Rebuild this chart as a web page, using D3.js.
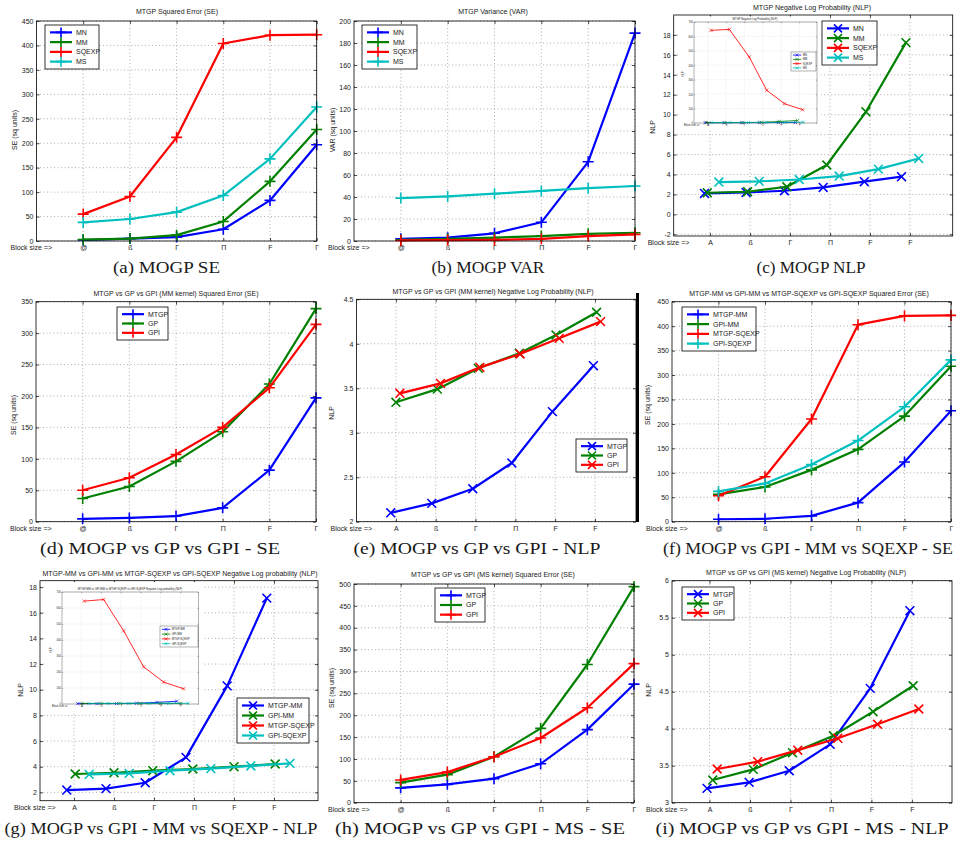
<!DOCTYPE html>
<html><head><meta charset="utf-8">
<script src="https://cdn.jsdelivr.net/npm/d3@7"></script>
<style>body{margin:0;background:#fff} svg{display:block}</style>
</head><body><svg id="c" width="956" height="846"></svg>
<script>
// ---------- data ----------
const blockIdx = [1, 2, 3, 4, 5, 6];
const blockLabelsSE = ["@", "ß", "Γ", "Π", "F", "Γ"];
const blockLabelsNLP = ["A", "ß", "Γ", "Π", "F", "F"];
const blockAxisLabel = "Block size =>";

// (a) MTGP SE
const seMN = [2, 5, 8, 24, 83, 197];
const seMM = [3, 5, 12, 40, 122, 228];
const seSQEXP = [55, 91, 212, 404, 421, 422];
const seMS = [38, 45, 59, 93, 168, 274];
// (b) MTGP VAR
const varMN = [2, 3, 7, 17, 72, 189];
const varMM = [1, 2, 3, 4.5, 6.5, 7.5];
const varSQEXP = [0.5, 0.8, 1, 2, 4.5, 6];
const varMS = [39, 40.5, 43, 45.5, 48, 50];
// (c) MTGP NLP
const nlpMN_x = [0.86, 1.9, 2.86, 3.83, 4.86, 5.79];
const nlpMN = [2.1, 2.2, 2.37, 2.7, 3.28, 3.78];
const nlpMM_x = [0.93, 1.94, 2.92, 3.92, 4.9, 5.9];
const nlpMM = [2.17, 2.27, 2.77, 4.95, 10.29, 17.23];
const nlpSQEXP_x = [1.18, 2.18, 3.27, 4.22, 5.19, 6.19];
const nlpSQEXP = [642, 649, 457, 227, 134, 92];
const nlpMS_x = [1.22, 2.23, 3.23, 4.23, 5.21, 6.22];
const nlpMS = [3.24, 3.31, 3.5, 3.84, 4.54, 5.61];
// (d) MM kernel SE
const mmSE_MTGP = [4.5, 6, 9, 22, 82, 197];
const mmSE_GP = [37, 56, 96, 143, 219, 339];
const mmSE_GPI = [50, 70, 107, 150, 213, 314];
// (e) MM kernel NLP
const mmNLP_MTGP_x = [0.87, 1.9, 2.93, 3.91, 4.93, 5.96];
const mmNLP_MTGP = [2.10, 2.206, 2.37, 2.66, 3.237, 3.754];
const mmNLP_GP_x = [1.0, 2.04, 3.07, 4.1, 5.02, 6.04];
const mmNLP_GP = [3.342, 3.49, 3.724, 3.893, 4.099, 4.354];
const mmNLP_GPI_x = [1.1, 2.12, 3.11, 4.12, 5.1, 6.14];
const mmNLP_GPI = [3.443, 3.555, 3.735, 3.885, 4.061, 4.249];
// (f) MM vs SQEXP SE
const kSE_MTGP_MM = [5, 6, 12, 39, 122, 227];
const kSE_GPI_MM = [56, 71, 106, 148, 216, 318];
const kSE_MTGP_SQEXP = [53, 92, 210, 403, 421, 422];
const kSE_GPI_SQEXP = [62, 78, 117, 166, 235, 331];
// (g) MM vs SQEXP NLP
const kNLP_MTGP_MM_x = [0.82, 1.8, 2.78, 3.8, 4.83, 5.82];
const kNLP_MTGP_MM = [2.18, 2.29, 2.75, 4.73, 10.3, 17.14];
const kNLP_GPI_MM_x = [1.03, 2.0, 2.97, 3.97, 5.0, 6.03];
const kNLP_GPI_MM = [3.43, 3.53, 3.69, 3.82, 4.0, 4.21];
const kNLP_MTGP_SQEXP_x = [1.15, 2.13, 3.14, 4.15, 5.16, 6.17];
const kNLP_MTGP_SQEXP = [643, 653, 457, 232, 137, 95];
const kNLP_GPI_SQEXP_x = [1.38, 2.38, 3.4, 4.42, 5.42, 6.4];
const kNLP_GPI_SQEXP = [3.4, 3.48, 3.69, 3.85, 4.06, 4.26];
// (h) MS kernel SE
const msSE_MTGP = [34, 42, 55, 89, 167, 271];
const msSE_GP = [46, 64, 105, 170, 316, 494];
const msSE_GPI = [52, 70, 105, 148, 217, 318];
// (i) MS kernel NLP
const msNLP_MTGP_x = [0.94, 1.98, 2.97, 3.98, 4.97, 5.95];
const msNLP_MTGP = [3.194, 3.275, 3.432, 3.788, 4.545, 5.595];
const msNLP_GP_x = [1.08, 2.08, 3.05, 4.06, 5.04, 6.03];
const msNLP_GP = [3.306, 3.45, 3.676, 3.905, 4.23, 4.58];
const msNLP_GPI_x = [1.19, 2.19, 3.18, 4.17, 5.15, 6.17];
const msNLP_GPI = [3.455, 3.554, 3.71, 3.87, 4.06, 4.266];

// ---------- styles ----------
const C = {b: "#0000ff", g: "#008000", r: "#ff0000", c: "#00bfbf"};
const SANS = '"Liberation Sans", Arial, sans-serif';
const SERIF = '"Liberation Serif", "Times New Roman", serif';

const svg = d3.select("#c");
svg.append("rect").attr("width", 956).attr("height", 846).attr("fill", "#fff");

function markerPath(type, r) {
  if (type === "plus") return `M${-r},0H${r}M0,${-r}V${r}`;
  const q = r * 0.8;
  return `M${-q},${-q}L${q},${q}M${-q},${q}L${q},${-q}`;
}

let clipN = 0;
function drawPanel(p, s) {
  s = s || 1;
  const [L, T, R, B] = p.box;
  const x = d3.scaleLinear().domain(p.xd).range([L, R]);
  const y = d3.scaleLinear().domain(p.yd).range([B, T]);
  const g = svg.append("g");
  const fs = 7 * s;
  if (p.bg) g.append("rect").attr("x", p.bg[0]).attr("y", p.bg[1])
    .attr("width", p.bg[2] - p.bg[0]).attr("height", p.bg[3] - p.bg[1]).attr("fill", "#fff");

  // grid
  g.append("g").selectAll("line").data(blockIdx).join("line")
    .attr("x1", d => x(d)).attr("x2", d => x(d)).attr("y1", T).attr("y2", B)
    .attr("stroke", "#9a9a9a").attr("stroke-width", 0.8 * s).attr("stroke-dasharray", `${1*s},${2.5*s}`);
  g.append("g").selectAll("line").data(p.yt).join("line")
    .attr("y1", d => y(d)).attr("y2", d => y(d)).attr("x1", L).attr("x2", R)
    .attr("stroke", "#9a9a9a").attr("stroke-width", 0.8 * s).attr("stroke-dasharray", `${1*s},${2.5*s}`);

  // axes
  const styleAx = (sel) => {
    sel.select(".domain").remove();
    sel.attr("font-size", fs).attr("font-family", SANS);
    sel.selectAll("line").attr("stroke", "#000").attr("stroke-width", 0.7 * s);
    sel.selectAll("text").attr("fill", "#222");
  };
  g.append("g").attr("transform", `translate(0,${B})`)
    .call(d3.axisBottom(x).tickValues(blockIdx).tickFormat((d, i) => p.xl[i])
      .tickSizeInner(-3 * s).tickSizeOuter(0).tickPadding(4 * s)).call(styleAx);
  g.append("g").attr("transform", `translate(0,${T})`)
    .call(d3.axisTop(x).tickValues(blockIdx).tickFormat(() => "")
      .tickSizeInner(-3 * s).tickSizeOuter(0)).call(styleAx);
  g.append("g").attr("transform", `translate(${L},0)`)
    .call(d3.axisLeft(y).tickValues(p.yt).tickFormat(d => String(d))
      .tickSizeInner(-3 * s).tickSizeOuter(0).tickPadding(3 * s)).call(styleAx);
  g.append("g").attr("transform", `translate(${R},0)`)
    .call(d3.axisRight(y).tickValues(p.yt).tickFormat(() => "")
      .tickSizeInner(-3 * s).tickSizeOuter(0)).call(styleAx);

  // block size label
  g.append("text").attr("x", L - 26 * s).attr("y", B + 9 * s).attr("font-size", fs)
    .attr("font-family", SANS).attr("fill", "#222").text(blockAxisLabel);
  // title
  g.append("text").attr("x", p.title[1]).attr("y", p.title[2]).attr("text-anchor", "middle")
    .attr("font-size", fs).attr("font-family", SANS).attr("fill", "#222").text(p.title[0]);
  // y label
  g.append("text").attr("transform", `translate(${p.ylab[1]},${p.ylab[2]}) rotate(-90)`)
    .attr("text-anchor", "middle").attr("font-size", fs).attr("font-family", SANS)
    .attr("fill", "#222").text(p.ylab[0]);

  // series
  const id = "clip" + (clipN++);
  const m = 6 * s;
  svg.append("clipPath").attr("id", id).append("rect")
    .attr("x", L - m).attr("y", T - m).attr("width", R - L + 2 * m).attr("height", B - T + 2 * m);
  const sg = g.append("g").attr("clip-path", `url(#${id})`);
  p.series.forEach(se => {
    const pts = se.x.map((xv, i) => [x(xv), y(se.y[i])]);
    sg.append("path").attr("d", d3.line()(pts)).attr("fill", "none")
      .attr("stroke", se.c).attr("stroke-width", 2.2 * s).attr("stroke-linejoin", "round");
    sg.append("g").selectAll("path").data(pts).join("path")
      .attr("transform", d => `translate(${d[0]},${d[1]})`)
      .attr("d", markerPath(p.marker, 5.5 * s)).attr("fill", "none")
      .attr("stroke", se.c).attr("stroke-width", 1.6 * s);
  });

  // frame
  g.append("rect").attr("x", L).attr("y", T).attr("width", R - L).attr("height", B - T)
    .attr("fill", "none").attr("stroke", "#000").attr("stroke-width", 0.8 * s);

  if (p.inset) drawPanel(p.inset, p.inset.s);

  // legend
  if (p.legend) {
    const [x0, y0, x1, y1] = p.legend;
    const lg = svg.append("g");
    lg.append("rect").attr("x", x0).attr("y", y0).attr("width", x1 - x0).attr("height", y1 - y0)
      .attr("fill", "#fff").attr("stroke", "#000").attr("stroke-width", 0.8 * s);
    const pad = 2.5 * s, rh = (y1 - y0 - 2 * pad) / p.series.length;
    p.series.forEach((se, k) => {
      const cy = y0 + pad + rh * (k + 0.5);
      lg.append("line").attr("x1", x0 + 5 * s).attr("x2", x0 + 27 * s).attr("y1", cy).attr("y2", cy)
        .attr("stroke", se.c).attr("stroke-width", 2.2 * s);
      lg.append("path").attr("transform", `translate(${x0 + 16 * s},${cy})`)
        .attr("d", markerPath(p.marker, 5 * s)).attr("fill", "none")
        .attr("stroke", se.c).attr("stroke-width", 1.6 * s);
      lg.append("text").attr("x", x0 + 31 * s).attr("y", cy).attr("dy", "0.35em")
        .attr("font-size", fs).attr("font-family", SANS).attr("fill", "#222").text(se.n);
    });
  }
  // caption
  if (p.cap) {
    svg.append("text").attr("x", p.cap[1]).attr("y", p.cap[2]).attr("text-anchor", "middle")
      .attr("font-size", 17).attr("font-family", SERIF).attr("fill", "#1a1a1a")
      .attr("textLength", p.cap[3]).attr("lengthAdjust", "spacingAndGlyphs").text(p.cap[0]);
  }
}

const S = (n, c, x, y) => ({n, c, x, y});
const ySE450 = d3.range(0, 451, 50);

const panels = [
  { box: [36.5, 21, 316.7, 241], xd: [0, 6], yd: [0, 450], yt: ySE450, xl: blockLabelsSE, marker: "plus",
    title: ["MTGP Squared Error (SE)", 177, 14], ylab: ["SE (sq units)", 17, 130],
    series: [S("MN", C.b, blockIdx, seMN), S("MM", C.g, blockIdx, seMM), S("SQEXP", C.r, blockIdx, seSQEXP), S("MS", C.c, blockIdx, seMS)],
    legend: [45, 25, 99, 69], cap: ["(a) MOGP SE", 166.5, 273, 107] },
  { box: [354, 21, 635, 241], xd: [0, 6], yd: [0, 200], yt: d3.range(0, 201, 20), xl: blockLabelsSE, marker: "plus",
    title: ["MTGP Variance (VAR)", 493, 14], ylab: ["VAR (sq units)", 335, 130],
    series: [S("MN", C.b, blockIdx, varMN), S("MM", C.g, blockIdx, varMM), S("SQEXP", C.r, blockIdx, varSQEXP), S("MS", C.c, blockIdx, varMS)],
    legend: [362, 25, 417, 69], cap: ["(b) MOGP VAR", 488, 273, 113] },
  { box: [673.7, 15, 952.7, 236], xd: [0.09, 7.07], yd: [-2.17, 20], yt: d3.range(-2, 19, 2), xl: blockLabelsNLP, marker: "x",
    title: ["MTGP Negative Log Probability (NLP)", 812, 10], ylab: ["NLP", 655, 127],
    series: [S("MN", C.b, nlpMN_x, nlpMN), S("MM", C.g, nlpMM_x, nlpMM), S("SQEXP", C.r, nlpSQEXP_x, nlpSQEXP), S("MS", C.c, nlpMS_x, nlpMS)],
    legend: [822, 21, 877, 65], cap: ["(c) MOGP NLP", 811, 273, 109],
    inset: { s: 0.38, bg: [680, 16.5, 821, 128], box: [694, 22, 817, 123], xd: [0.25, 6.97], yd: [0, 700], yt: d3.range(0, 701, 100),
      xl: blockLabelsNLP, marker: "x",
      title: ["MTGP Negative Log Probability (NLP)", 755, 20], ylab: ["NLP", 684, 74],
      series: [S("MN", C.b, nlpMN_x, nlpMN), S("MM", C.g, nlpMM_x, nlpMM), S("SQEXP", C.r, nlpSQEXP_x, nlpSQEXP), S("MS", C.c, nlpMS_x, nlpMS)],
      legend: [791, 52, 816, 71] } },
  { box: [36, 301.7, 316, 521.7], xd: [0, 6], yd: [0, 350], yt: d3.range(0, 351, 50), xl: blockLabelsSE, marker: "plus",
    title: ["MTGP vs GP vs GPI (MM kernel) Squared Error (SE)", 176, 296], ylab: ["SE (sq units)", 16, 415],
    series: [S("MTGP", C.b, blockIdx, mmSE_MTGP), S("GP", C.g, blockIdx, mmSE_GP), S("GPI", C.r, blockIdx, mmSE_GPI)],
    legend: [117, 307, 168, 340], cap: ["(d) MOGP vs GP vs GPI - SE", 160, 554, 240] },
  { box: [356.5, 299.3, 636, 521.7], xd: [0.01, 7.03], yd: [2, 4.5], yt: d3.range(2, 4.51, 0.5), xl: blockLabelsNLP, marker: "x",
    title: ["MTGP vs GP vs GPI (MM kernel) Negative Log Probability (NLP)", 493, 294], ylab: ["NLP", 334, 413],
    series: [S("MTGP", C.b, mmNLP_MTGP_x, mmNLP_MTGP), S("GP", C.g, mmNLP_GP_x, mmNLP_GP), S("GPI", C.r, mmNLP_GPI_x, mmNLP_GPI)],
    legend: [576, 439, 627, 472], cap: ["(e) MOGP vs GP vs GPI - NLP", 477, 554, 247] },
  { box: [672, 301.7, 951, 521.7], xd: [0, 6], yd: [0, 450], yt: ySE450, xl: blockLabelsSE, marker: "plus",
    title: ["MTGP-MM vs GPI-MM vs MTGP-SQEXP vs GPI-SQEXP Squared Error (SE)", 809, 296], ylab: ["SE (sq units)", 650, 405],
    series: [S("MTGP-MM", C.b, blockIdx, kSE_MTGP_MM), S("GPI-MM", C.g, blockIdx, kSE_GPI_MM), S("MTGP-SQEXP", C.r, blockIdx, kSE_MTGP_SQEXP), S("GPI-SQEXP", C.c, blockIdx, kSE_GPI_SQEXP)],
    legend: [682, 307, 756, 351], cap: ["(f) MOGP vs GPI - MM vs SQEXP - SE", 808, 554, 290] },
  { box: [40, 580.7, 318, 800.7], xd: [0.15, 7.1], yd: [1.35, 18.5], yt: d3.range(2, 19, 2), xl: blockLabelsNLP, marker: "x",
    title: ["MTGP-MM vs GPI-MM vs MTGP-SQEXP vs GPI-SQEXP Negative Log probability (NLP)", 180, 576], ylab: ["NLP", 23, 690],
    series: [S("MTGP-MM", C.b, kNLP_MTGP_MM_x, kNLP_MTGP_MM), S("GPI-MM", C.g, kNLP_GPI_MM_x, kNLP_GPI_MM), S("MTGP-SQEXP", C.r, kNLP_MTGP_SQEXP_x, kNLP_MTGP_SQEXP), S("GPI-SQEXP", C.c, kNLP_GPI_SQEXP_x, kNLP_GPI_SQEXP)],
    legend: [237, 698, 309, 743], cap: ["(g) MOGP vs GPI - MM vs SQEXP - NLP", 161, 834, 313],
    inset: { s: 0.38, bg: [45, 582, 203, 711], box: [62, 592, 198.7, 704], xd: [0.025, 6.93], yd: [0, 700], yt: d3.range(0, 701, 100),
      xl: blockLabelsNLP, marker: "x",
      title: ["MTGP-MM vs GPI-MM vs MTGP-SQEXP vs GPI-SQEXP Negative Log probability (NLP)", 130, 590], ylab: ["NLP", 52, 650],
      series: [S("MTGP-MM", C.b, kNLP_MTGP_MM_x, kNLP_MTGP_MM), S("GPI-MM", C.g, kNLP_GPI_MM_x, kNLP_GPI_MM), S("MTGP-SQEXP", C.r, kNLP_MTGP_SQEXP_x, kNLP_MTGP_SQEXP), S("GPI-SQEXP", C.c, kNLP_GPI_SQEXP_x, kNLP_GPI_SQEXP)],
      legend: [160, 626, 198, 647] } },
  { box: [354, 584, 634, 802.7], xd: [0, 6], yd: [0, 500], yt: d3.range(0, 501, 50), xl: blockLabelsSE, marker: "plus",
    title: ["MTGP vs GP vs GPI (MS kernel) Squared Error (SE)", 493, 577], ylab: ["SE (sq units)", 334, 688],
    series: [S("MTGP", C.b, blockIdx, msSE_MTGP), S("GP", C.g, blockIdx, msSE_GP), S("GPI", C.r, blockIdx, msSE_GPI)],
    legend: [435, 588, 485, 622], cap: ["(h) MOGP vs GP vs GPI - MS - SE", 480, 834, 290] },
  { box: [672, 580.7, 952, 802.7], xd: [0.074, 6.99], yd: [3, 6], yt: d3.range(3, 6.01, 0.5), xl: blockLabelsNLP, marker: "x",
    title: ["MTGP vs GP vs GPI (MS kernel) Negative Log Probability (NLP)", 806, 575], ylab: ["NLP", 651, 690],
    series: [S("MTGP", C.b, msNLP_MTGP_x, msNLP_MTGP), S("GP", C.g, msNLP_GP_x, msNLP_GP), S("GPI", C.r, msNLP_GPI_x, msNLP_GPI)],
    legend: [682, 587, 734, 620], cap: ["(i) MOGP vs GP vs GPI - MS - NLP", 802, 834, 293] }
];

panels.forEach(p => drawPanel(p, 1));

// thick right edge of panel (e)
svg.append("rect").attr("x", 636).attr("y", 293).attr("width", 3).attr("height", 229).attr("fill", "#000");
</script>
</body></html>
